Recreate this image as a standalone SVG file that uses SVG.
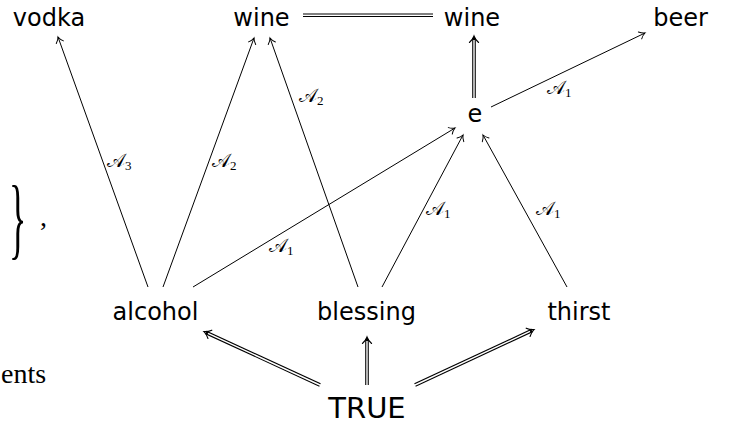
<svg xmlns="http://www.w3.org/2000/svg" width="729" height="428" viewBox="0 0 729 428">
<style>
.n{font-family:"DejaVu Sans","Liberation Sans",sans-serif;font-size:24px;fill:#000;text-anchor:middle}
.big{font-size:29px}
.lab{font-family:"DejaVu Serif","DejaVu Sans","Liberation Serif",serif;font-size:19px;fill:#000}
.sub{font-family:"Liberation Serif","DejaVu Serif",serif;font-size:13px}
.rm{font-family:"Liberation Serif","DejaVu Serif",serif;fill:#000}
.s{fill:none;stroke:#000;stroke-width:1;marker-end:url(#to)}
.dO{fill:none;stroke:#000;stroke-width:3.6}
.dI{fill:none;stroke:#fff;stroke-width:1.4}
.dA{fill:none;stroke:none;marker-end:url(#to2)}
</style>
<defs>
<marker id="to" markerUnits="userSpaceOnUse" orient="auto" refX="0" refY="0" markerWidth="12" markerHeight="12" viewBox="-7 -6 8 12" overflow="visible">
<path d="M-5.5,-3.8 C-3.5,-1.6 -1.2,-0.4 0,0 C-1.2,0.4 -3.5,1.6 -5.5,3.8" fill="none" stroke="#000" stroke-width="1" stroke-linecap="round"/>
</marker>
<marker id="to2" markerUnits="userSpaceOnUse" orient="auto" refX="0" refY="0" markerWidth="14" markerHeight="14" viewBox="-8 -7 9 14" overflow="visible">
<path d="M-6.5,-4.6 C-4.2,-2 -1.4,-0.5 0,0 C-1.4,0.5 -4.2,2 -6.5,4.6" fill="none" stroke="#000" stroke-width="1.1" stroke-linecap="round"/>
</marker>
</defs>

<g id="context">
<text class="rm" x="0" y="0" font-size="90" transform="translate(9,248) scale(0.4,1)">}</text>
<text class="rm" x="40" y="226" font-size="28">,</text>
<text class="rm" x="1" y="383" font-size="28">ents</text>
</g>

<g id="connectors">
<line class="s" x1="148" y1="287" x2="58" y2="37"/>
<line class="s" x1="163" y1="287" x2="254" y2="38"/>
<line class="s" x1="193" y1="287" x2="455" y2="128"/>
<line class="s" x1="358" y1="287" x2="270" y2="38"/>
<line class="s" x1="382" y1="287" x2="463" y2="135"/>
<line class="s" x1="567" y1="287" x2="483" y2="135"/>
<line class="s" x1="491" y1="107" x2="645" y2="33"/>

<line class="dO" x1="303" y1="15.3" x2="433" y2="15.3"/>
<line class="dI" x1="302" y1="15.3" x2="434" y2="15.3"/>

<line class="dO" x1="474" y1="98" x2="474" y2="38"/>
<line class="dI" x1="474" y1="99" x2="474" y2="40"/>
<line class="dA" x1="474" y1="98" x2="474" y2="36"/>

<line class="dO" x1="320" y1="385" x2="206" y2="332.5"/>
<line class="dI" x1="321" y1="385.5" x2="208" y2="333.4"/>
<line class="dA" x1="320" y1="385" x2="204" y2="331.6"/>

<line class="dO" x1="367" y1="385" x2="367" y2="339"/>
<line class="dI" x1="367" y1="386" x2="367" y2="341"/>
<line class="dA" x1="367" y1="385" x2="367" y2="337"/>

<line class="dO" x1="415" y1="385" x2="532" y2="330.5"/>
<line class="dI" x1="414" y1="385.5" x2="530" y2="331.4"/>
<line class="dA" x1="415" y1="385" x2="534" y2="329.6"/>

<text class="lab" x="107" y="167">𝒜<tspan class="sub" dy="3">3</tspan></text>
<text class="lab" x="212" y="167">𝒜<tspan class="sub" dy="3">2</tspan></text>
<text class="lab" x="269" y="252">𝒜<tspan class="sub" dy="3">1</tspan></text>
<text class="lab" x="299" y="102">𝒜<tspan class="sub" dy="3">2</tspan></text>
<text class="lab" x="426" y="215">𝒜<tspan class="sub" dy="3">1</tspan></text>
<text class="lab" x="536" y="215">𝒜<tspan class="sub" dy="3">1</tspan></text>
<text class="lab" x="547" y="94">𝒜<tspan class="sub" dy="3">1</tspan></text>
</g>

<g id="node-vodka"><text class="n" x="49" y="26">vodka</text></g>
<g id="node-wine1"><text class="n" x="261.5" y="26">wine</text></g>
<g id="node-wine2"><text class="n" x="472" y="26">wine</text></g>
<g id="node-beer"><text class="n" x="680.5" y="26">beer</text></g>
<g id="node-e"><text class="n" x="475" y="122">e</text></g>
<g id="node-alcohol"><text class="n" x="155.5" y="320">alcohol</text></g>
<g id="node-blessing"><text class="n" x="366.5" y="320">blessing</text></g>
<g id="node-thirst"><text class="n" x="579" y="320">thirst</text></g>
<g id="node-true"><text class="n big" x="367" y="418">TRUE</text></g>
</svg>
